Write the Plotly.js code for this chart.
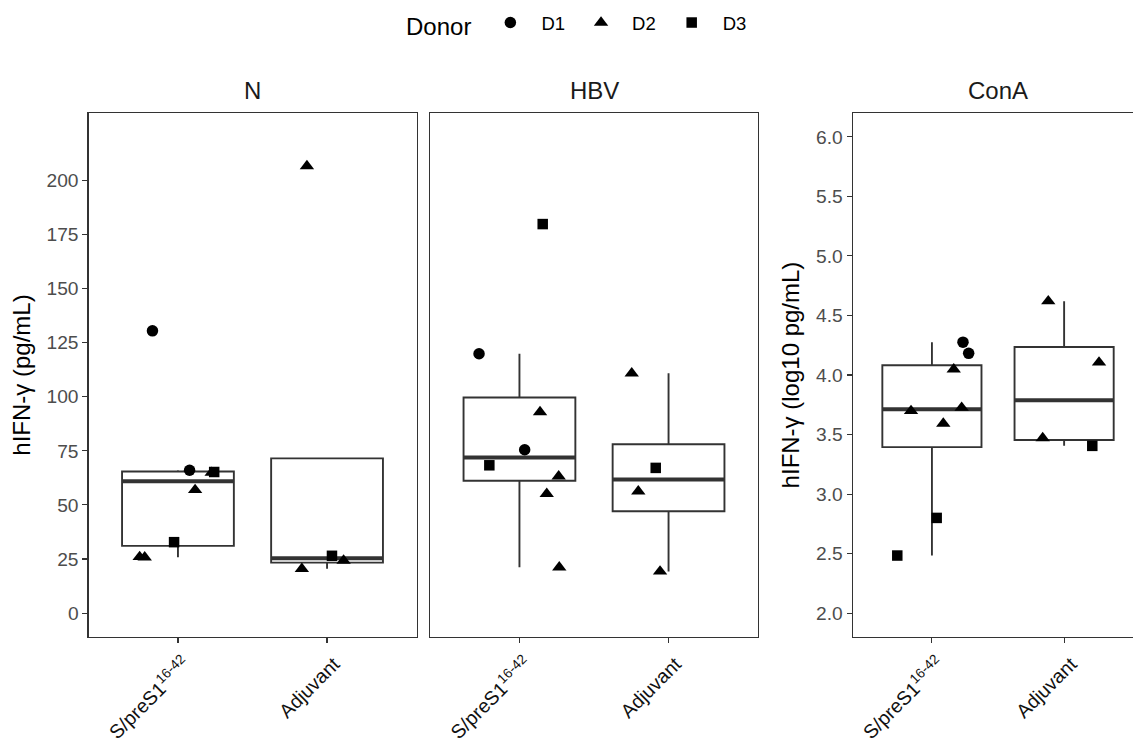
<!DOCTYPE html>
<html><head><meta charset="utf-8">
<script src="https://cdn.plot.ly/plotly-3.0.1.min.js"></script>
<style>html,body{margin:0;padding:0;background:#fff}#chart{width:1133px;height:749px}</style>
</head><body><div id="chart"></div>
<script>
// ---------- data ----------
const panels = ["N", "HBV", "ConA"];
const groups = ["S/preS1<sup>16-42</sup>", "Adjuvant"];
const donors = ["D1", "D2", "D3"];
const donorSymbols = ["circle", "triangle-up", "square"];
const yTicksPg = [0, 25, 50, 75, 100, 125, 150, 175, 200];
const yTicksLog = [2.0, 2.5, 3.0, 3.5, 4.0, 4.5, 5.0, 5.5, 6.0];
const yTickTextLog = ["2.0", "2.5", "3.0", "3.5", "4.0", "4.5", "5.0", "5.5", "6.0"];

// group index: 1 = S/preS1(16-42), 2 = Adjuvant; jitter = horizontal offset seen in the picture
const N_group  = [1, 1, 1, 1, 1, 1, 1, 1, 2, 2, 2, 2];
const N_donor  = ["D1", "D1", "D2", "D2", "D2", "D2", "D3", "D3", "D2", "D2", "D2", "D3"];
const N_value  = [130.4, 66.0, 64.9, 56.9, 26.0, 25.8, 65.2, 32.8, 206.5, 20.5, 24.3, 26.5];
const N_jitter = [-0.171, 0.078, 0.226, 0.115, -0.257, -0.223, 0.243, -0.026, -0.135, -0.169, 0.111, 0.033];

const HBV_group  = [1, 1, 1, 1, 1, 1, 1, 1, 2, 2, 2, 2];
const HBV_donor  = ["D1", "D1", "D2", "D2", "D2", "D2", "D3", "D3", "D2", "D2", "D2", "D3"];
const HBV_value  = [119.8, 75.5, 92.9, 63.2, 55.1, 21.2, 179.7, 68.3, 110.8, 56.3, 19.3, 67.1];
const HBV_jitter = [-0.271, 0.035, 0.138, 0.263, 0.183, 0.267, 0.156, -0.202, -0.247, -0.203, -0.057, -0.086];

const ConA_group  = [1, 1, 1, 1, 1, 1, 1, 1, 2, 2, 2, 2];
const ConA_donor  = ["D1", "D1", "D2", "D2", "D2", "D2", "D3", "D3", "D2", "D2", "D2", "D3"];
const ConA_value  = [4.276, 4.182, 4.048, 3.698, 3.726, 3.592, 2.800, 2.484, 4.620, 4.106, 3.470, 3.405];
const ConA_jitter = [0.235, 0.278, 0.165, -0.158, 0.225, 0.086, 0.036, -0.262, -0.120, 0.264, -0.162, 0.213];

// ---------- build ----------
const panelData = [
  {g: N_group, d: N_donor, v: N_value, j: N_jitter},
  {g: HBV_group, d: HBV_donor, v: HBV_value, j: HBV_jitter},
  {g: ConA_group, d: ConA_donor, v: ConA_value, j: ConA_jitter}
];
const axSuffix = ["", "2", "3"];
const FONT = "Liberation Sans, Arial, sans-serif";
const LINE = "#333333";
const BOXW = 0.75;

function q7(s, p) {
  const h = (s.length - 1) * p, lo = Math.floor(h), hi = Math.ceil(h);
  return s[lo] + (h - lo) * (s[hi] - s[lo]);
}

const boxTraces = [], medTraces = [], ptTraces = [];
panelData.forEach((P, pi) => {
  const xa = "x" + axSuffix[pi], ya = "y" + axSuffix[pi];
  [1, 2].forEach(g => {
    const vals = P.v.filter((_, i) => P.g[i] === g).slice().sort((a, b) => a - b);
    const q1 = q7(vals, 0.25), med = q7(vals, 0.5), q3 = q7(vals, 0.75);
    const iqr = q3 - q1;
    let up = Math.max(...vals.filter(v => v <= q3 + 1.5 * iqr));
    let lo = Math.min(...vals.filter(v => v >= q1 - 1.5 * iqr));
    up = Math.max(up, q3); lo = Math.min(lo, q1);
    boxTraces.push({
      type: "box", x: [g], q1: [q1], median: [med], q3: [q3],
      lowerfence: [lo], upperfence: [up], width: BOXW,
      fillcolor: "white", line: {color: LINE, width: 1.9}, whiskerwidth: 0,
      boxpoints: false, showlegend: false, hoverinfo: "skip", xaxis: xa, yaxis: ya
    });
    medTraces.push({
      type: "scatter", mode: "lines", x: [g - BOXW / 2, g + BOXW / 2], y: [med, med],
      line: {color: LINE, width: 4}, showlegend: false, hoverinfo: "skip", xaxis: xa, yaxis: ya
    });
  });
  donors.forEach((dn, di) => {
    const idx = P.d.map((d, i) => d === dn ? i : -1).filter(i => i >= 0);
    if (!idx.length) return;
    ptTraces.push({
      type: "scatter", mode: "markers", name: dn, legendgroup: dn,
      showlegend: pi === 0,
      x: idx.map(i => P.g[i] + P.j[i]), y: idx.map(i => P.v[i]),
      marker: {symbol: donorSymbols[di], color: "black",
               size: di === 1 ? 12.5 : (di === 0 ? 11.5 : 10.5), line: {width: 0}},
      xaxis: xa, yaxis: ya, cliponaxis: false
    });
  });
});

const W = 1133, H = 749;
const yDom = [(H - 637) / H, (H - 113) / H];
const xBase = {
  range: [0.4, 2.6], tickvals: [1, 2], ticktext: groups, tickangle: -45,
  ticks: "outside", ticklen: 5, tickwidth: 1.1, tickcolor: LINE,
  ticklabelshift: 7, ticklabelstandoff: 2,
  showline: true, mirror: true, linecolor: LINE, linewidth: 1.1,
  showgrid: false, zeroline: false, fixedrange: true,
  tickfont: {family: FONT, size: 19.5, color: "#111111"}
};
const yBase = {
  domain: yDom, ticks: "outside", ticklen: 5, tickwidth: 1.1, tickcolor: LINE,
  showline: true, mirror: true, linecolor: LINE, linewidth: 1.1,
  showgrid: false, zeroline: false, fixedrange: true,
  tickfont: {family: FONT, size: 19.2, color: "#4d4d4d"}
};

const layout = {
  width: W, height: H, margin: {l: 0, r: 0, t: 0, b: 0, autoexpand: false},
  paper_bgcolor: "white", plot_bgcolor: "white",
  font: {family: FONT, color: "black"},
  showlegend: true,
  legend: {
    orientation: "h", x: 578 / W, xanchor: "center", y: 1 - 25 / H, yanchor: "middle",
    title: {text: "Donor", side: "left", font: {size: 24, family: FONT}},
    font: {size: 18.5, family: FONT}, itemwidth: 52, bgcolor: "rgba(0,0,0,0)"
  },
  xaxis: Object.assign({}, xBase, {domain: [88.5 / W, 416.5 / W], anchor: "y"}),
  xaxis2: Object.assign({}, xBase, {domain: [430 / W, 758 / W], anchor: "y2"}),
  xaxis3: Object.assign({}, xBase, {domain: [852.6 / W, 1], anchor: "y3",
                                    range: [0.4, 0.4 + (W - 852.6) / 132.2]}),
  yaxis: Object.assign({}, yBase, {anchor: "x", range: [-11, 231], tickvals: yTicksPg,
    title: {text: "hIFN-γ (pg/mL)", font: {size: 24, family: FONT}, standoff: 9}}),
  yaxis2: Object.assign({}, yBase, {anchor: "x2", range: [-11, 231], tickvals: yTicksPg,
    showticklabels: false, ticks: ""}),
  yaxis3: Object.assign({}, yBase, {anchor: "x3", range: [1.8, 6.2], tickvals: yTicksLog,
    ticktext: yTickTextLog, mirror: false,
    title: {text: "hIFN-γ (log10 pg/mL)", font: {size: 24, family: FONT}, standoff: 9}}),
  annotations: panels.map((p, i) => ({
    text: p, xref: "x" + axSuffix[i], x: 1.5, yref: "paper", y: 1 - 90 / H,
    xanchor: "center", yanchor: "middle", showarrow: false,
    font: {family: FONT, size: 24, color: "#1a1a1a"}
  }))
};

Plotly.newPlot("chart", boxTraces.concat(medTraces, ptTraces), layout,
  {staticPlot: true, displayModeBar: false});
</script>
</body></html>
